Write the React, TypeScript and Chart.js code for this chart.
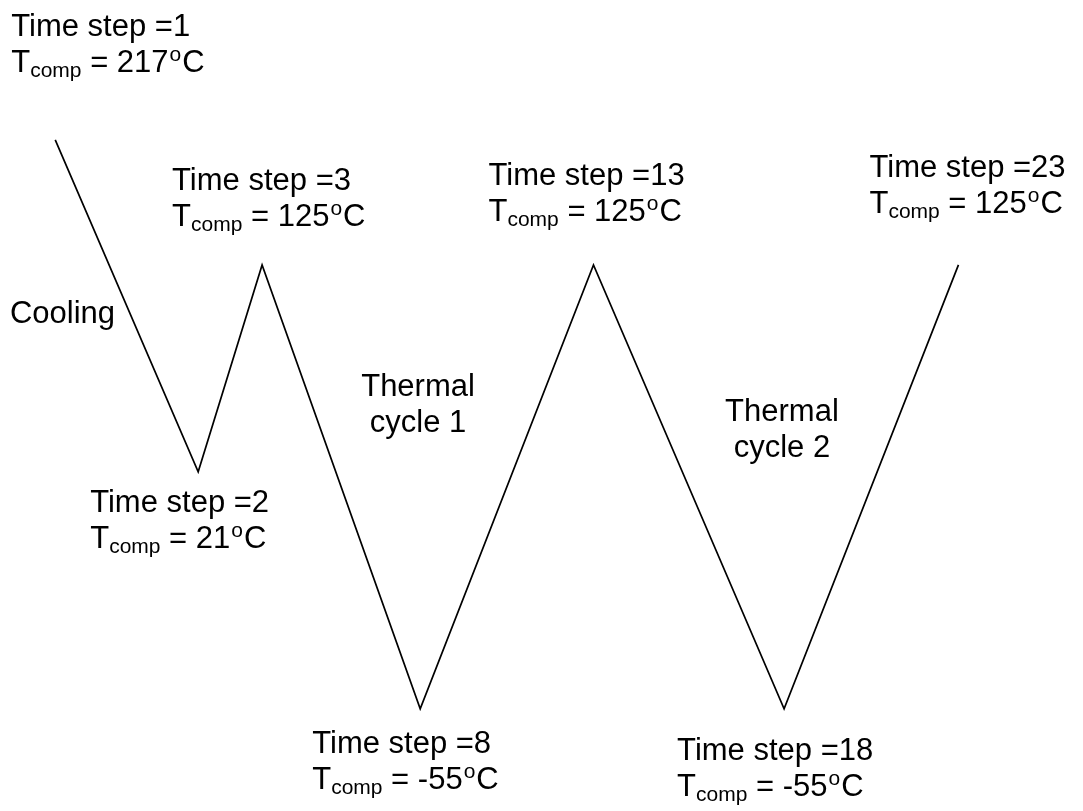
import React, { useEffect, useRef } from "react";
import { Chart, registerables } from "chart.js";

Chart.register(...registerables);

// Schematic path of the thermal history (x: schematic time position, y: drawn temperature level)
const pathX = [5.1, 18.3, 24.2, 38.8, 54.8, 72.4, 88.5];
const pathY = [175.7, 41.1, 125, -55, 125, -55, 125];

// Labels at each vertex
const timeSteps = ["1", "2", "3", "8", "13", "18", "23"];
const compTemps = ["217", "21", "125", "-55", "125", "-55", "125"];
// label offsets from vertex in px (left, first baseline)
const labelDx = [-44, -108, -90, -108, -105, -107, -89];
const labelDy = [-104, 40, -75, 44, -80, 51, -88];

// Free-floating region labels (data coordinates, first baseline)
const regionText = [["Cooling"], ["Thermal", "cycle 1"], ["Thermal", "cycle 2"]];
const regionX = [0.92, 38.6, 72.2];
const regionY = [101.5, 71.9, 61.8];
const regionAlign: CanvasTextAlign[] = ["left", "center", "center"];

const FONT = '"Liberation Sans", Arial, sans-serif';
const MAIN = 31;
const SMALL = 21;
const LINE_GAP = 36;

function drawTempLine(ctx: CanvasRenderingContext2D, x: number, y: number, val: string) {
  ctx.textAlign = "left";
  ctx.textBaseline = "alphabetic";
  let cx = x;
  ctx.font = `${MAIN}px ${FONT}`;
  ctx.fillText("T", cx, y);
  cx += ctx.measureText("T").width;
  ctx.font = `${SMALL}px ${FONT}`;
  ctx.fillText("comp", cx, y + 5);
  cx += ctx.measureText("comp").width;
  ctx.font = `${MAIN}px ${FONT}`;
  const mid = " = " + val;
  ctx.fillText(mid, cx, y);
  cx += ctx.measureText(mid).width;
  ctx.font = `${SMALL}px ${FONT}`;
  ctx.fillText("o", cx + 1, y - 11);
  cx += ctx.measureText("o").width + 2;
  ctx.font = `${MAIN}px ${FONT}`;
  ctx.fillText("C", cx, y);
}

const labelPlugin = {
  id: "schematicLabels",
  afterDatasetsDraw(chart: any) {
    const ctx: CanvasRenderingContext2D = chart.ctx;
    const xs = chart.scales.x;
    const ys = chart.scales.y;
    ctx.save();
    ctx.fillStyle = "#000";
    for (let i = 0; i < pathX.length; i++) {
      const px = xs.getPixelForValue(pathX[i]);
      const py = ys.getPixelForValue(pathY[i]);
      const lx = px + labelDx[i];
      const ly = py + labelDy[i];
      ctx.font = `${MAIN}px ${FONT}`;
      ctx.textAlign = "left";
      ctx.textBaseline = "alphabetic";
      ctx.fillText("Time step =" + timeSteps[i], lx, ly);
      drawTempLine(ctx, lx, ly + LINE_GAP, compTemps[i]);
    }
    for (let r = 0; r < regionText.length; r++) {
      const px = xs.getPixelForValue(regionX[r]);
      const py = ys.getPixelForValue(regionY[r]);
      ctx.font = `${MAIN}px ${FONT}`;
      ctx.textAlign = regionAlign[r];
      ctx.textBaseline = "alphabetic";
      regionText[r].forEach((t, k) => ctx.fillText(t, px, py + k * LINE_GAP));
    }
    ctx.restore();
  },
};

export default function App() {
  const ref = useRef<HTMLCanvasElement | null>(null);
  useEffect(() => {
    document.body.style.margin = "0";
    document.body.style.background = "#fff";
    if (!ref.current) return;
    const chart = new Chart(ref.current, {
      type: "scatter",
      data: {
        datasets: [
          {
            data: pathX.map((x, i) => ({ x, y: pathY[i] })),
            showLine: true,
            borderColor: "#000",
            borderWidth: 1.7,
            pointRadius: 0,
            tension: 0,
            fill: false,
          },
        ],
      },
      options: {
        animation: false,
        responsive: false,
        maintainAspectRatio: false,
        layout: { padding: 0 },
        plugins: { legend: { display: false }, tooltip: { enabled: false } },
        scales: {
          x: { type: "linear", min: 0, max: 100, display: false },
          y: { type: "linear", min: -96.4, max: 232.4, display: false },
        },
      },
      plugins: [labelPlugin],
    });
    return () => chart.destroy();
  }, []);
  return (
    <div style={{ position: "fixed", left: 0, top: 0, width: 1083, height: 811, background: "#fff" }}>
      <canvas ref={ref} width={1083} height={811} style={{ width: 1083, height: 811 }} />
    </div>
  );
}
